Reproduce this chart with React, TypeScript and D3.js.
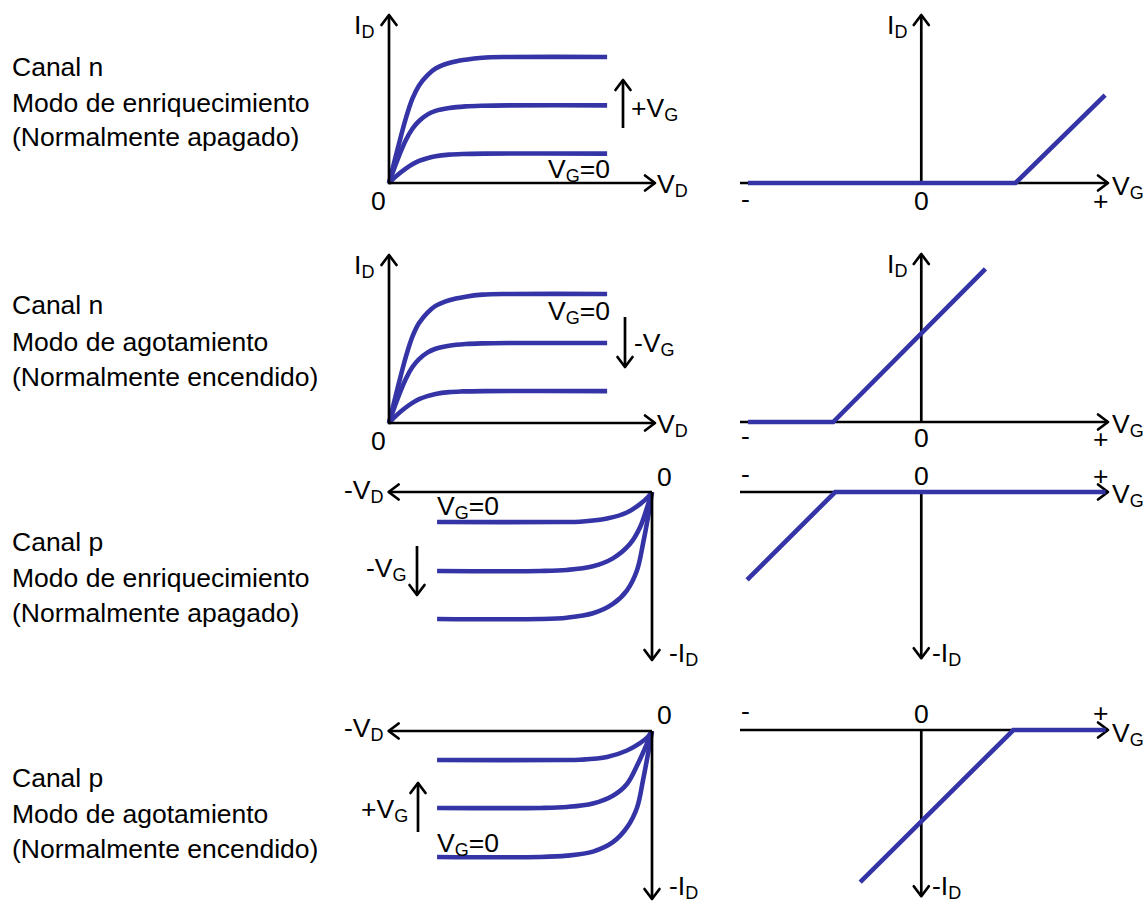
import React from 'react';
import * as d3 from 'd3';

// ---------- DATA ----------
// Output characteristics I_D vs V_D (arbitrary units)
const nEnhTop: [number, number][] = [[0, 0], [0.31, 1.94], [0.63, 3.83], [0.88, 5.02], [1.13, 5.81], [1.44, 6.41], [1.75, 6.81], [2.26, 7.14], [2.88, 7.34], [3.51, 7.46], [4.5, 7.5], [8.2, 7.5]];
const nEnhMid: [number, number][] = [[0, 0], [0.31, 1.35], [0.63, 2.54], [0.88, 3.23], [1.13, 3.69], [1.44, 4.07], [1.75, 4.29], [2.26, 4.46], [2.88, 4.56], [3.51, 4.6], [4.5, 4.62], [8.2, 4.62]];
const nEnhBot: [number, number][] = [[0, 0], [0.31, 0.46], [0.63, 0.85], [0.88, 1.11], [1.13, 1.31], [1.44, 1.47], [1.75, 1.59], [2.26, 1.69], [2.76, 1.73], [3.6, 1.75], [8.2, 1.75]];

const nDepTop: [number, number][] = [[0, 0], [0.31, 1.99], [0.63, 3.92], [0.88, 5.14], [1.13, 5.95], [1.44, 6.56], [1.75, 6.97], [2.26, 7.31], [2.88, 7.52], [3.51, 7.64], [4.5, 7.68], [8.2, 7.68]];
const nDepMid: [number, number][] = [[0, 0], [0.31, 1.39], [0.63, 2.62], [0.88, 3.33], [1.13, 3.8], [1.44, 4.19], [1.75, 4.42], [2.26, 4.6], [2.88, 4.7], [3.51, 4.74], [4.5, 4.76], [8.2, 4.76]];
const nDepBot: [number, number][] = [[0, 0], [0.31, 0.5], [0.63, 0.92], [0.88, 1.2], [1.13, 1.42], [1.44, 1.6], [1.75, 1.73], [2.26, 1.84], [2.76, 1.88], [3.6, 1.9], [8.2, 1.9]];

const pEnhTop: [number, number][] = [[-8.08, -1.79], [-3.4, -1.79], [-2.71, -1.77], [-1.69, -1.58], [-0.94, -1.22], [-0.45, -0.72], [-0.15, -0.3], [0, 0]];
const pEnhMid: [number, number][] = [[-8.08, -4.7], [-4.2, -4.7], [-3.2, -4.64], [-2.22, -4.42], [-1.47, -3.95], [-0.83, -3.1], [-0.45, -2.1], [-0.19, -0.95], [0, 0]];
const pEnhBot: [number, number][] = [[-8.08, -7.56], [-4.2, -7.56], [-3.2, -7.48], [-2.22, -7.22], [-1.47, -6.66], [-0.94, -5.85], [-0.56, -4.64], [-0.34, -3.1], [-0.15, -1.5], [0, 0]];

const pDepTop: [number, number][] = [[-8.08, -1.73], [-3.4, -1.73], [-2.71, -1.71], [-1.69, -1.55], [-0.94, -1.16], [-0.45, -0.72], [-0.15, -0.34], [0, 0]];
const pDepMid: [number, number][] = [[-8.08, -4.58], [-4.2, -4.58], [-3.2, -4.52], [-2.22, -4.31], [-1.47, -3.85], [-0.94, -3.15], [-0.53, -1.95], [-0.19, -0.75], [0, 0]];
const pDepBot: [number, number][] = [[-8.08, -7.5], [-4.2, -7.5], [-3.2, -7.42], [-2.22, -7.18], [-1.47, -6.62], [-0.94, -5.74], [-0.56, -4.55], [-0.34, -2.95], [-0.15, -1.35], [0, 0]];

// Transfer characteristics I_D vs V_G
const tNEnh: [number, number][] = [[-9.56, 0], [5.2, 0], [10.14, 4.87]];
const tNDep: [number, number][] = [[-9.56, 0], [-4.86, 0], [3.54, 8.47]];
const tPEnh: [number, number][] = [[-9.61, -4.87], [-4.75, 0], [10.17, 0]];
const tPDep: [number, number][] = [[-3.37, -8.42], [5.08, 0], [10.17, 0]];

// Row titles
const rowTitles: string[][] = [
  ['Canal n', 'Modo de enriquecimiento', '(Normalmente apagado)'],
  ['Canal n', 'Modo de agotamiento', '(Normalmente encendido)'],
  ['Canal p', 'Modo de enriquecimiento', '(Normalmente apagado)'],
  ['Canal p', 'Modo de agotamiento', '(Normalmente encendido)'],
];

// ---------- STYLE ----------
const BLUE = '#3434a6';
const FS = 26.5;
const SUB = 18;
const FONT = "'Liberation Sans', Arial, sans-serif";

function Arrow({ x1, y1, x2, y2 }: { x1: number; y1: number; x2: number; y2: number }) {
  const ang = Math.atan2(y2 - y1, x2 - x1);
  const L = 12.5;
  const sp = (37 * Math.PI) / 180;
  const a1 = [x2 - L * Math.cos(ang - sp), y2 - L * Math.sin(ang - sp)];
  const a2 = [x2 - L * Math.cos(ang + sp), y2 - L * Math.sin(ang + sp)];
  return (
    <g stroke="#000" strokeWidth={2.7} fill="none">
      <line x1={x1} y1={y1} x2={x2} y2={y2} />
      <polyline points={`${a1[0]},${a1[1]} ${x2},${y2} ${a2[0]},${a2[1]}`} strokeLinejoin="round" strokeLinecap="round" />
    </g>
  );
}

function Lbl({ x, y, main, sub, tail }: { x: number; y: number; main: string; sub?: string; tail?: string }) {
  return (
    <text x={x} y={y} fontSize={FS} fill="#000">
      {main}
      {sub ? <tspan fontSize={SUB} dy={4}>{sub}</tspan> : null}
      {tail ? <tspan fontSize={FS} dy={-4}>{tail}</tspan> : null}
    </text>
  );
}

function curvePath(data: [number, number][], x: d3.ScaleLinear<number, number>, y: d3.ScaleLinear<number, number>, curve: any) {
  return d3.line<[number, number]>().x((d) => x(d[0])).y((d) => y(d[1])).curve(curve)(data) || '';
}

function OutputPanel({ ox, oy, p, curves }: { ox: number; oy: number; p: boolean; curves: [number, number][][] }) {
  const x = d3.scaleLinear().domain(p ? [0, -10] : [0, 10]).range(p ? [ox, ox - 266] : [ox, ox + 266]);
  const y = d3.scaleLinear().domain(p ? [0, -10] : [0, 10]).range(p ? [oy, oy + 168] : [oy, oy - 168]);
  return (
    <g>
      {curves.map((c, i) => (
        <path key={i} d={curvePath(c, x, y, d3.curveCatmullRom.alpha(0.5))} fill="none" stroke={BLUE} strokeWidth={4.6} />
      ))}
      <Arrow x1={x(0)} y1={y(0)} x2={x(p ? -9.9 : 10)} y2={y(0)} />
      <Arrow x1={x(0)} y1={y(0) + (p ? 0 : 1.3)} x2={x(0)} y2={y(p ? -10 : 10)} />
    </g>
  );
}

function TransferPanel({ oy, p, data }: { oy: number; p: boolean; data: [number, number][] }) {
  const x = d3.scaleLinear().domain([-10, 10.3]).range([740, 1108]);
  const y = d3.scaleLinear().domain(p ? [0, -9.3] : [0, 9.3]).range(p ? [oy, oy + 168] : [oy, oy - 168]);
  return (
    <g>
      <Arrow x1={x(-10)} y1={y(0)} x2={x(10.3)} y2={y(0)} />
      <Arrow x1={x(0)} y1={y(0)} x2={x(0)} y2={y(p ? -9.2 : 9.3)} />
      <path d={curvePath(data, x, y, d3.curveLinear)} fill="none" stroke={BLUE} strokeWidth={4.6} strokeLinejoin="miter" />
    </g>
  );
}

export default function App() {
  const titleBase = [[76, 112, 146], [314, 351, 386], [551, 587, 622], [787, 823, 858]];
  return (
    <svg width={1148} height={903} style={{ position: 'absolute', left: 0, top: 0, background: '#fff' }} fontFamily={FONT}>
      <rect width={1148} height={903} fill="#fff" />
      {rowTitles.map((lines, r) => (
        <g key={r}>
          {lines.map((t, i) => (
            <text key={i} x={12} y={titleBase[r][i]} fontSize={FS} fill="#000">{t}</text>
          ))}
        </g>
      ))}

      {/* Row 1 left: n enhancement */}
      <OutputPanel ox={389} oy={183} p={false} curves={[nEnhTop, nEnhMid, nEnhBot]} />
      <Lbl x={354} y={34} main="I" sub="D" />
      <Lbl x={371} y={210} main="0" />
      <Lbl x={657} y={193} main="V" sub="D" />
      <Lbl x={548} y={178} main="V" sub="G" tail="=0" />
      <Arrow x1={623} y1={128} x2={623} y2={80} />
      <Lbl x={631} y={117} main="+V" sub="G" />

      {/* Row 1 right */}
      <TransferPanel oy={183} p={false} data={tNEnh} />
      <Lbl x={887} y={34} main="I" sub="D" />
      <Lbl x={914} y={210} main="0" />
      <Lbl x={741} y={208} main="-" />
      <Lbl x={1093} y={210} main="+" />
      <Lbl x={1112} y={195} main="V" sub="G" />

      {/* Row 2 left: n depletion */}
      <OutputPanel ox={389} oy={423} p={false} curves={[nDepTop, nDepMid, nDepBot]} />
      <Lbl x={354} y={274} main="I" sub="D" />
      <Lbl x={371} y={450} main="0" />
      <Lbl x={657} y={433} main="V" sub="D" />
      <Lbl x={548} y={320} main="V" sub="G" tail="=0" />
      <Arrow x1={625} y1={317} x2={625} y2={367} />
      <Lbl x={634} y={352} main="-V" sub="G" />

      {/* Row 2 right */}
      <TransferPanel oy={422} p={false} data={tNDep} />
      <Lbl x={887} y={273} main="I" sub="D" />
      <Lbl x={914} y={447} main="0" />
      <Lbl x={741} y={445} main="-" />
      <Lbl x={1093} y={448} main="+" />
      <Lbl x={1112} y={433} main="V" sub="G" />

      {/* Row 3 left: p enhancement */}
      <OutputPanel ox={652} oy={492} p={true} curves={[pEnhTop, pEnhMid, pEnhBot]} />
      <Lbl x={657} y={486} main="0" />
      <Lbl x={344} y={499} main="-V" sub="D" />
      <Lbl x={437} y={515} main="V" sub="G" tail="=0" />
      <Lbl x={366} y={577} main="-V" sub="G" />
      <Arrow x1={417} y1={546} x2={417} y2={595} />
      <Lbl x={669} y={662} main="-I" sub="D" />

      {/* Row 3 right */}
      <TransferPanel oy={492} p={true} data={tPEnh} />
      <Lbl x={741} y={483} main="-" />
      <Lbl x={914} y={485} main="0" />
      <Lbl x={1093} y={485} main="+" />
      <Lbl x={1112} y={503} main="V" sub="G" />
      <Lbl x={932} y={662} main="-I" sub="D" />

      {/* Row 4 left: p depletion */}
      <OutputPanel ox={652} oy={731} p={true} curves={[pDepTop, pDepMid, pDepBot]} />
      <Lbl x={657} y={724} main="0" />
      <Lbl x={344} y={737} main="-V" sub="D" />
      <Lbl x={361} y={818} main="+V" sub="G" />
      <Arrow x1={418} y1={832} x2={418} y2={783} />
      <Lbl x={437} y={852} main="V" sub="G" tail="=0" />
      <Lbl x={669} y={895} main="-I" sub="D" />

      {/* Row 4 right */}
      <TransferPanel oy={730} p={true} data={tPDep} />
      <Lbl x={741} y={720} main="-" />
      <Lbl x={914} y={723} main="0" />
      <Lbl x={1093} y={722} main="+" />
      <Lbl x={1112} y={742} main="V" sub="G" />
      <Lbl x={932} y={895} main="-I" sub="D" />
    </svg>
  );
}
